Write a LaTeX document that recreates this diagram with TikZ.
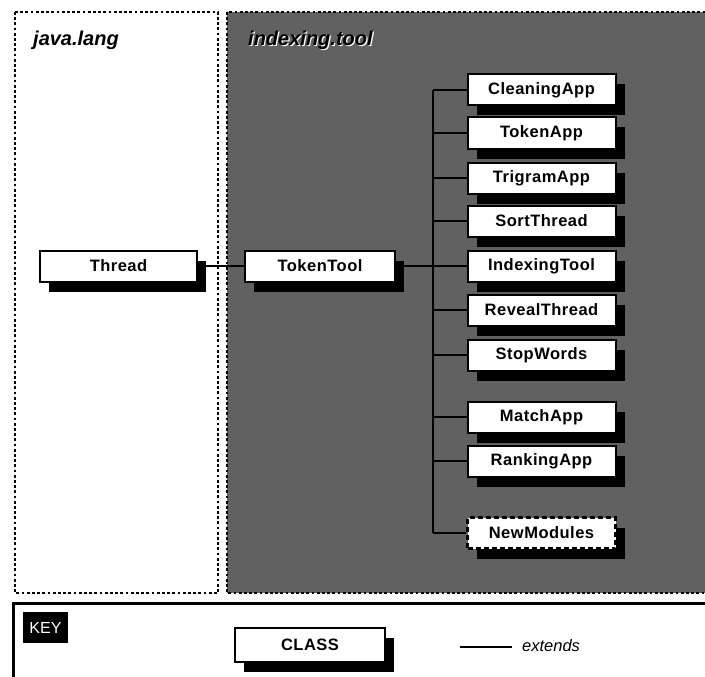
\documentclass[tikz,border=0pt]{standalone}
\usepackage{fontspec}
\setmainfont{Liberation Sans}
\newfontfamily\spacedsans[LetterSpace=3.0]{Liberation Sans}
\usetikzlibrary{shadows}
\definecolor{pkggray}{gray}{0.38}
\tikzset{
  pkgborder/.style={line width=2.8pt, dash pattern=on 2.8pt off 2.4pt},
  cls/.style={draw=black, line width=2pt, fill=white, minimum width=148pt,
    minimum height=31pt, inner sep=0pt, font=\spacedsans\bfseries\fontsize{16.5}{18}\selectfont,
    drop shadow={shadow xshift=9pt, shadow yshift=-10pt, fill=black, opacity=1}},
  newcls/.style={cls, dash pattern=on 5pt off 3pt, line width=2.4pt},
  conn/.style={draw=black, line width=1.6pt},
  title/.style={anchor=west, inner sep=0pt, font=\bfseries\itshape\fontsize{20}{22}\selectfont}
}
\begin{document}
\begin{tikzpicture}[x=1pt,y=-1pt]
\useasboundingbox (0,0) rectangle (705,677);
\clip (0,0) rectangle (705,677);
\fill[white] (0,0) rectangle (705,677);
% packages
\draw[pkgborder] (15,12) rectangle (218,593);
\fill[pkggray] (227,12) rectangle (712,593);
\draw[pkgborder] (227,12) rectangle (712,593);
\node[title] (tjava) at (33,40) {java.lang};
\node[title, white] (tidxs) at (249.2,41.2) {indexing.tool};
\node[title] (tidx) at (248,40) {indexing.tool};
% bus
\coordinate (bt) at (433,90);
\coordinate (bb) at (433,533);
\coordinate (bm) at (433,266);
% classes
\node[cls, minimum width=157pt] (thread) at (118.5,266) {Thread};
\node[cls, minimum width=150pt] (tokentool) at (320,266) {TokenTool};
\node[cls] (clean) at (541.5,90) {CleaningApp};
\node[cls] (tokenapp) at (541.5,133) {TokenApp};
\node[cls] (trigram) at (541.5,178) {TrigramApp};
\node[cls] (sort) at (541.5,221) {SortThread};
\node[cls] (indexing) at (541.5,266) {IndexingTool};
\node[cls] (reveal) at (541.5,310) {RevealThread};
\node[cls] (stop) at (541.5,355) {StopWords};
\node[cls] (match) at (541.5,417) {MatchApp};
\node[cls] (ranking) at (541.5,461) {RankingApp};
\node[newcls] (newmod) at (541.5,533) {NewModules};
% connectors
\draw[conn] (thread) -- (tokentool);
\draw[conn] (tokentool) -- (bm);
\draw[conn] (bt) -- (bb);
\foreach \n in {clean,tokenapp,trigram,sort,indexing,reveal,stop,match,ranking,newmod}
  \draw[conn] (bt |- \n.west) -- (\n.west);
% key
\fill[white] (13,603) rectangle (712,690);
\draw[line width=3pt] (13,690) -- (13,603) -- (712,603);
\node[fill=black, text=white, minimum width=45pt, minimum height=31pt, inner sep=0pt,
  font=\fontsize{16}{18}\selectfont] (key) at (45.5,627.5) {KEY};
\node[cls, minimum width=150pt, minimum height=34pt] (keyclass) at (310,645) {CLASS};
\coordinate (ext1) at (460,647);
\coordinate (ext2) at (512,647);
\draw[conn] (ext1) -- (ext2);
\node[anchor=west, inner sep=0pt, font=\itshape\fontsize{16.5}{18}\selectfont] (extlabel) at (522,646) {extends};
\end{tikzpicture}
\end{document}
